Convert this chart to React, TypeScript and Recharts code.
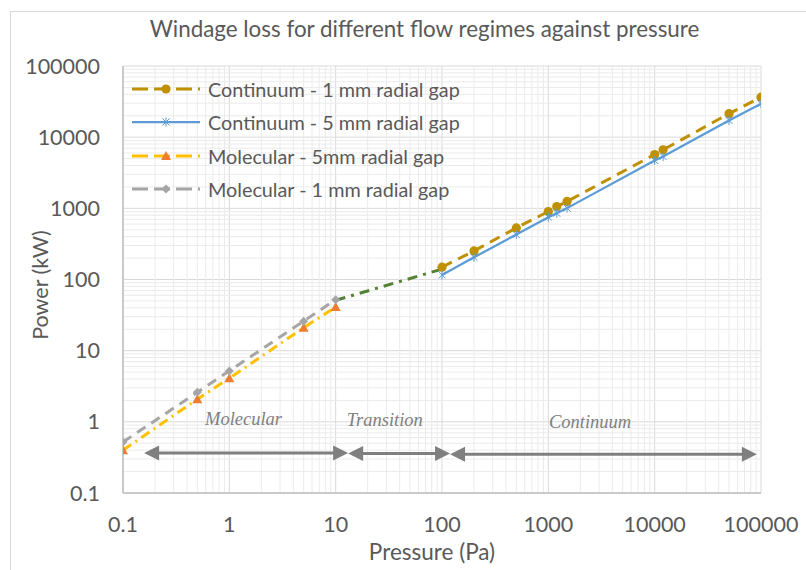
import {
  ComposedChart,
  Line,
  XAxis,
  YAxis,
  CartesianGrid,
  ReferenceLine,
  ReferenceDot,
} from "recharts";

// axis ticks (log decades)
const pressureTicks = [0.1, 1, 10, 100, 1000, 10000, 100000];
const powerTicks = [0.1, 1, 10, 100, 1000, 10000, 100000];

// molecular regime
const molPressure = [0.1, 0.5, 1, 5, 10];
const mol5mm = [0.4, 2.08, 4.1, 21, 41];
const mol1mm = [0.52, 2.6, 5.2, 26, 52];

// transition (no legend entry)
const transPressure = [10, 100];
const transPower = [51, 140];

// continuum regime
const contPressure = [100, 200, 500, 1000, 1200, 1500, 10000, 12000, 50000, 100000];
const cont1mm = [149, 252, 531, 901, 1060, 1250, 5700, 6640, 21400, 36500];
const cont5mm = [116, 205, 428, 751, 855, 1007, 4700, 5350, 17200, 29500];

// regime annotations
const regimeNames = ["Molecular", "Transition", "Continuum"];
const regimeBounds = [0.158, 13.1, 119, 91500];
const regimeArrowY = [0.366, 0.36, 0.35];
const regimeLabelX = [1.36, 29, 2470];
const regimeLabelY = [1.1, 1.07, 1.0];

const toRows = (xs: number[], ys: number[]) => xs.map((x, i) => ({ x, y: ys[i] }));

const minorValues = (decades: number[]) =>
  decades.slice(0, -1).flatMap((d) => [2, 3, 4, 5, 6, 7, 8, 9].map((k) => d * k));

const FONT = "Lato, 'Open Sans', sans-serif";
const TEXT = "#595959";
const MINOR = "#ebebeb";

const GOLD = "#bf9000";
const BLUE = "#5b9bd5";
const YELLOW = "#ffc000";
const ORANGE = "#ed7d31";
const GREY = "#a5a5a5";
const GREEN = "#548235";

type MarkerKind = "circle" | "star" | "triangle" | "diamond";

function Marker({ kind, cx, cy }: { kind: MarkerKind; cx: number; cy: number }) {
  if (kind === "circle") return <circle cx={cx} cy={cy} r={4.6} fill={GOLD} />;
  if (kind === "star")
    return (
      <g stroke={BLUE} strokeWidth={1}>
        <line x1={cx - 3.5} y1={cy - 3.5} x2={cx + 3.5} y2={cy + 3.5} />
        <line x1={cx - 3.5} y1={cy + 3.5} x2={cx + 3.5} y2={cy - 3.5} />
        <line x1={cx} y1={cy - 4.5} x2={cx} y2={cy + 4.5} />
      </g>
    );
  if (kind === "triangle")
    return <polygon points={`${cx},${cy - 5} ${cx + 5},${cy + 4} ${cx - 5},${cy + 4}`} fill={ORANGE} />;
  return <polygon points={`${cx},${cy - 4.5} ${cx + 4.5},${cy} ${cx},${cy + 4.5} ${cx - 4.5},${cy}`} fill={GREY} />;
}

const series = [
  { name: "Continuum - 1 mm radial gap", xs: contPressure, ys: cont1mm, color: GOLD, dash: "11 7", width: 3, marker: "circle" as MarkerKind },
  { name: "Continuum - 5 mm radial gap", xs: contPressure, ys: cont5mm, color: BLUE, dash: undefined, width: 2.25, marker: "star" as MarkerKind },
  { name: "Molecular - 5mm radial gap", xs: molPressure, ys: mol5mm, color: YELLOW, dash: "10 5 2 5", width: 3, marker: "triangle" as MarkerKind },
  { name: "Molecular - 1 mm radial gap", xs: molPressure, ys: mol1mm, color: GREY, dash: "10 7", width: 3, marker: "diamond" as MarkerKind },
];

function Arrow(props: any) {
  const { x1, y1, x2, y2 } = props;
  const h = 15;
  const w = 7.5;
  return (
    <g fill="#7f7f7f">
      <line x1={x1 + h - 1} y1={y1} x2={x2 - h + 1} y2={y2} stroke="#7f7f7f" strokeWidth={3} />
      <polygon points={`${x1},${y1} ${x1 + h},${y1 - w} ${x1 + h},${y1 + w}`} />
      <polygon points={`${x2},${y2} ${x2 - h},${y2 - w} ${x2 - h},${y2 + w}`} />
    </g>
  );
}

function Legend() {
  return (
    <div style={{ position: "absolute", left: 132, top: 72, fontFamily: FONT, fontSize: 19.8, color: TEXT }}>
      {series.map((s) => (
        <div key={s.name} style={{ display: "flex", alignItems: "center", height: 33.5 }}>
          <svg width={68} height={14} style={{ marginRight: 8 }}>
            <line x1={0} y1={7} x2={68} y2={7} stroke={s.color} strokeWidth={s.width} strokeDasharray={s.dash ? "16 6" : undefined} />
            <Marker kind={s.marker} cx={34} cy={7} />
          </svg>
          <span>{s.name}</span>
        </div>
      ))}
    </div>
  );
}

export default function App() {
  return (
    <div
      style={{
        position: "absolute",
        left: 0,
        top: 0,
        width: 806,
        height: 570,
        overflow: "hidden",
        background: "#fff",
        fontFamily: FONT,
      }}
    >
      <div
        style={{
          position: "absolute",
          left: 10,
          top: 11,
          width: 820,
          height: 600,
          border: "1px solid #d9d9d9",
        }}
      />
      <div
        style={{
          position: "absolute",
          left: 0,
          width: 849,
          top: 15,
          textAlign: "center",
          fontSize: 22.4,
          color: TEXT,
        }}
      >
        Windage loss for different flow regimes against pressure
      </div>
      <div style={{ position: "absolute", left: 0, top: 0 }}>
        <ComposedChart width={806} height={570} margin={{ top: 66, right: 45, bottom: 37, left: 0 }}>
          {minorValues(pressureTicks).map((v) => (
            <ReferenceLine key={`mx-${v}`} x={v} stroke={MINOR} strokeWidth={1} />
          ))}
          {minorValues(powerTicks).map((v) => (
            <ReferenceLine key={`my-${v}`} y={v} stroke={MINOR} strokeWidth={1} />
          ))}
          <CartesianGrid stroke="#d9d9d9" strokeWidth={1} verticalValues={pressureTicks} horizontalValues={powerTicks} />
          <XAxis
            dataKey="x"
            type="number"
            scale="log"
            domain={[0.1, 100000]}
            ticks={pressureTicks}
            allowDataOverflow
            height={40}
            tickLine={false}
            tickMargin={18}
            axisLine={{ stroke: "#bfbfbf", strokeWidth: 1.5 }}
            tick={{ fill: TEXT, fontSize: 21.5, fontFamily: FONT }}
          />
          <YAxis
            type="number"
            scale="log"
            domain={[0.1, 100000]}
            ticks={powerTicks}
            allowDataOverflow
            width={123}
            tickLine={false}
            tickMargin={17}
            axisLine={{ stroke: "#bfbfbf", strokeWidth: 1.5 }}
            tick={{ fill: TEXT, fontSize: 21.5, fontFamily: FONT }}
          />
          <Line
            data={toRows(transPressure, transPower)}
            dataKey="y"
            stroke={GREEN}
            strokeWidth={3}
            strokeDasharray="10 6 3 6"
            dot={false}
            legendType="none"
            isAnimationActive={false}
          />
          {series.map((s) => (
            <Line
              key={s.name}
              name={s.name}
              data={toRows(s.xs, s.ys)}
              dataKey="y"
              stroke={s.color}
              strokeWidth={s.width}
              strokeDasharray={s.dash}
              dot={(p: any) => <Marker key={`${s.name}-${p.index}`} kind={s.marker} cx={p.cx} cy={p.cy} />}
              activeDot={false}
              isAnimationActive={false}
            />
          ))}
          {regimeNames.map((name, i) => (
            <ReferenceLine
              key={`arrow-${name}`}
              segment={[
                { x: regimeBounds[i], y: regimeArrowY[i] },
                { x: regimeBounds[i + 1], y: regimeArrowY[i] },
              ]}
              ifOverflow="visible"
              shape={(p: any) => <Arrow {...p} />}
            />
          ))}
          {regimeNames.map((name, i) => (
            <ReferenceDot
              key={`label-${name}`}
              x={regimeLabelX[i]}
              y={regimeLabelY[i]}
              ifOverflow="visible"
              shape={(p: any) => (
                <text
                  x={p.cx}
                  y={p.cy}
                  textAnchor="middle"
                  dominantBaseline="central"
                  fontFamily="'Liberation Serif', serif"
                  fontStyle="italic"
                  fontSize={18.5}
                  fill="#7f7f7f"
                >
                  {name}
                </text>
              )}
            />
          ))}
        </ComposedChart>
      </div>
      <Legend />
      <div
        style={{
          position: "absolute",
          left: 40,
          top: 285,
          transform: "translate(-50%, -50%) rotate(-90deg)",
          fontSize: 21.5,
          color: TEXT,
          whiteSpace: "nowrap",
        }}
      >
        Power (kW)
      </div>
      <div
        style={{
          position: "absolute",
          left: 332,
          width: 200,
          top: 538,
          textAlign: "center",
          fontSize: 22.5,
          lineHeight: "27px",
          color: TEXT,
        }}
      >
        Pressure (Pa)
      </div>
    </div>
  );
}
